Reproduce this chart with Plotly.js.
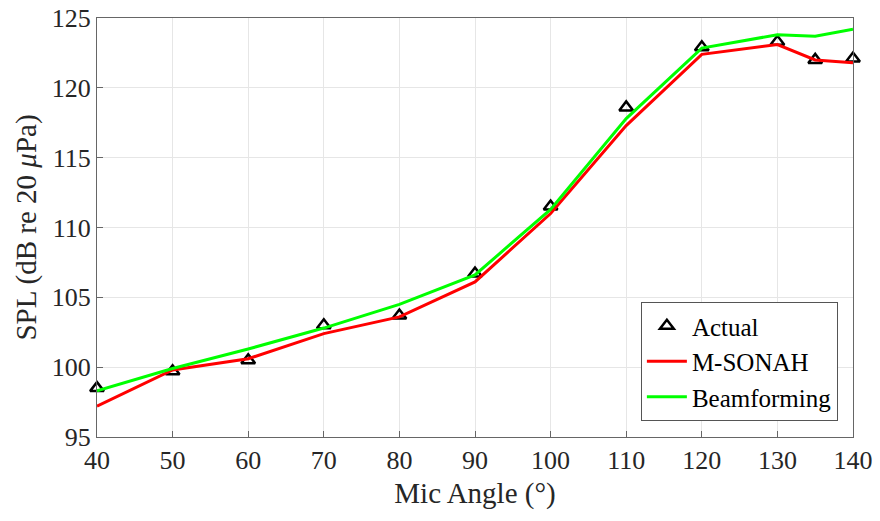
<!DOCTYPE html>
<html>
<head>
<meta charset="utf-8">
<script src="https://cdn.plot.ly/plotly-3.0.1.min.js"></script>
<style>html,body{margin:0;padding:0;background:#fff;}#chart{width:880px;height:521px;}</style>
</head>
<body>
<div id="chart"></div>
<script>
const angles = [40, 50, 60, 70, 80, 90, 100, 110, 120, 130, 135, 140];
const actual = [98.5, 99.7, 100.5, 103.0, 103.7, 106.7, 111.5, 118.6, 122.9, 123.3, 122.0, 122.1];
const msonah = [97.2, 99.8, 100.6, 102.4, 103.6, 106.1, 111.0, 117.3, 122.4, 123.1, 122.0, 121.8];
const beamforming = [98.3, 99.9, 101.3, 102.8, 104.5, 106.6, 111.3, 117.8, 122.85, 123.8, 123.7, 124.2];
const xTicks = [40, 50, 60, 70, 80, 90, 100, 110, 120, 130, 140];
const yTicks = [95, 100, 105, 110, 115, 120, 125];

const font = "'Liberation Serif', 'Times New Roman', Times, serif";
const traces = [
  {x: angles, y: actual, name: 'Actual', mode: 'markers', type: 'scatter', cliponaxis: false,
   marker: {symbol: 'triangle-up-open', size: 12, color: '#000', line: {width: 2.5, color: '#000'}}},
  {x: angles, y: msonah, name: 'M-SONAH', mode: 'lines', type: 'scatter',
   line: {color: '#ff0000', width: 3}},
  {x: angles, y: beamforming, name: 'Beamforming', mode: 'lines', type: 'scatter',
   line: {color: '#00ff00', width: 3}}
];
const layout = {
  width: 880, height: 521,
  margin: {l: 97, r: 27, t: 18, b: 84},
  paper_bgcolor: '#fff', plot_bgcolor: '#fff',
  font: {family: font, color: '#262626'},
  showlegend: true,
  legend: {x: 0.98, y: 0.038, xanchor: 'right', yanchor: 'bottom',
    bgcolor: '#fff', bordercolor: '#555', borderwidth: 1,
    font: {family: font, size: 25, color: '#000'}, tracegroupgap: 0, itemwidth: 40},
  xaxis: {range: [40, 140], tickvals: xTicks, ticktext: xTicks.map(String),
    showgrid: true, gridcolor: '#e6e6e6', gridwidth: 1,
    showline: true, linecolor: '#666', linewidth: 1, mirror: true,
    ticks: 'inside', ticklen: 6, tickcolor: '#666', zeroline: false,
    tickfont: {family: font, size: 26, color: '#262626'},
    title: {text: 'Mic Angle (°)', font: {family: font, size: 29, color: '#262626'}, standoff: 8}},
  yaxis: {range: [95, 125], tickvals: yTicks, ticktext: yTicks.map(String),
    showgrid: true, gridcolor: '#e6e6e6', gridwidth: 1,
    showline: true, linecolor: '#666', linewidth: 1, mirror: true,
    ticks: 'inside', ticklen: 6, tickcolor: '#666', zeroline: false,
    tickfont: {family: font, size: 26, color: '#262626'},
    title: {text: 'SPL (dB re 20 <i>μ</i>Pa)', font: {family: font, size: 29, color: '#262626'}, standoff: 6}}
};
Plotly.newPlot('chart', traces, layout, {displayModeBar: false, staticPlot: true});
</script>
</body>
</html>
